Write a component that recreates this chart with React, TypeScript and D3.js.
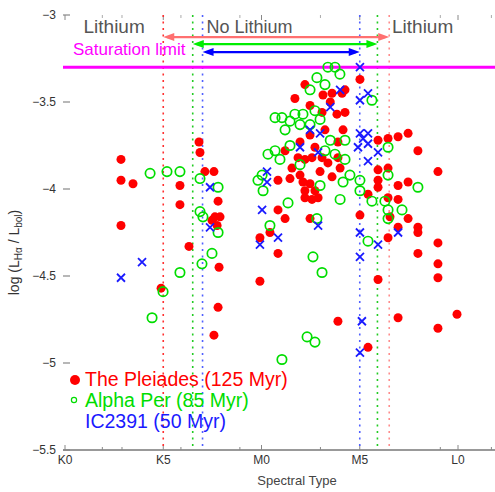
import React from 'react';
import * as d3 from 'd3';

const W = 495;
const H = 492;

// Spectral types are coded numerically: K0 = 0, K5 = 5, M0 = 10, M5 = 15, L0 = 20
const xTickTypes = [0, 5, 10, 15, 20];
const xTickLabels = ['K0', 'K5', 'M0', 'M5', 'L0'];
const xMinorTypes = [1.9, 2.9, 5.9, 8.9, 13, 19.1, 21.7];
const yTicks = [-3, -3.5, -4, -4.5, -5, -5.5];
const yTickLabels = ['−3', '−3.5', '−4', '−4.5', '−5', '−5.5'];

// log(L_Halpha / L_bol) against spectral type
const pleiades: [number, number][] = [
  [2.85, -3.83], [2.85, -3.95], [3.46, -3.97], [2.85, -4.21], [6.82, -3.73], [6.87, -3.79],
  [7.12, -3.9], [7.58, -3.9], [5.85, -3.98], [5.85, -4.09], [7.79, -4.07], [7.63, -4.16],
  [7.89, -4.16], [7.48, -4.18], [7.74, -4.21], [6.31, -4.33], [7.84, -4.45], [4.89, -4.57],
  [7.79, -4.68], [7.58, -4.84],
  [12.21, -3.4], [13.08, -3.56], [13.13, -3.46], [13.59, -3.45], [14.1, -3.45], [14.25, -3.43],
  [15.01, -3.37], [14.15, -3.66], [13.89, -3.73], [15.93, -3.72], [16.44, -3.71], [16.95, -3.7],
  [17.46, -3.68], [17.96, -3.78], [18.98, -3.9], [10.84, -3.95],
  [11.86, -3.82], [12.21, -3.83], [12.57, -3.82], [13.08, -3.82], [13.38, -3.85], [13.89, -3.82],
  [12.11, -3.96], [12.47, -3.97], [12.21, -4.01], [12.72, -4.01], [12.21, -4.05], [12.57, -4.06],
  [12.88, -4.05], [10.84, -4.12], [11.2, -4.17], [9.92, -4.28], [10.43, -4.25], [10.84, -4.37],
  [12.47, -4.17], [15.01, -4.15], [15.42, -4.03], [15.93, -3.89], [15.93, -3.95], [15.93, -3.99],
  [16.44, -3.88], [16.95, -3.98], [17.46, -3.96], [16.44, -4.05], [16.95, -4.06], [16.54, -4.16],
  [16.95, -4.22], [16.44, -4.28], [17.46, -4.17], [17.96, -4.22], [17.96, -4.25], [17.96, -4.37],
  [18.98, -4.31], [18.98, -4.43], [18.98, -4.51], [15.93, -4.52], [9.92, -4.53],
  [13.89, -4.76], [16.95, -4.74], [18.98, -4.8], [19.95, -4.72], [15.42, -4.91],
  [11.7, -3.48], [12.47, -3.52], [13.5, -3.5], [13.84, -3.57], [13.23, -3.66], [12.47, -3.69],
  [11.96, -3.73], [11.2, -3.78], [11.55, -3.88], [12.98, -3.9], [13.59, -3.93], [12.72, -3.76],
  [14.25, -3.56], [11.45, -3.94], [11.96, -3.92], [14.0, -3.88],
];

const alphaPer: [number, number][] = [
  [4.33, -3.91], [5.19, -3.9], [5.85, -3.9], [6.87, -3.94], [7.79, -3.99], [6.87, -4.13],
  [7.02, -4.16], [7.79, -4.25], [7.48, -4.37], [6.97, -4.43], [5.85, -4.48], [4.99, -4.59],
  [4.43, -4.74],
  [13.38, -3.3], [13.74, -3.3], [12.82, -3.36], [15.62, -3.49], [10.69, -3.59], [11.04, -3.59],
  [11.7, -3.57], [12.11, -3.57], [12.72, -3.55], [14.15, -3.96], [13.08, -4.48], [12.62, -4.39],
  [17.96, -3.99], [15.42, -4.3], [10.43, -4.21], [11.35, -4.08], [12.82, -4.17], [15.01, -4.01],
  [15.01, -3.95], [16.44, -3.76], [16.44, -3.92], [15.62, -4.07], [16.28, -4.07], [17.15, -4.12],
  [16.44, -4.12], [16.44, -4.17], [10.03, -3.92], [10.08, -4.01], [9.82, -3.95],
  [12.32, -4.85], [12.72, -4.88], [11.04, -4.98],
  [10.33, -3.8], [10.69, -3.78], [11.2, -3.66], [11.45, -3.61], [11.96, -3.63], [12.47, -3.63],
  [12.98, -3.6], [13.5, -3.72], [14.25, -3.72], [13.23, -3.78], [13.74, -3.8], [10.94, -3.83],
  [11.96, -3.86], [12.98, -3.98], [14.0, -4.06], [14.5, -3.92], [14.25, -3.83], [12.47, -3.43],
  [13.23, -3.4], [13.99, -3.34], [11.45, -3.75],
];

const ic2391: [number, number][] = [
  [7.38, -3.99], [7.38, -4.22], [3.92, -4.42], [2.85, -4.51],
  [10.28, -3.9], [10.28, -3.96], [11.96, -3.76], [12.88, -3.79], [12.98, -3.68], [15.01, -3.68],
  [15.17, -3.71], [15.42, -3.68], [15.42, -3.74], [14.91, -3.76], [15.01, -4.25], [15.01, -4.39],
  [15.93, -4.32], [15.93, -3.79], [16.95, -4.25], [12.88, -4.21], [10.03, -4.12], [10.84, -4.28],
  [9.92, -4.32], [15.42, -3.84], [15.01, -3.3], [14.0, -3.43], [15.42, -3.45], [15.01, -3.49],
  [15.11, -4.76], [15.01, -4.94], [13.5, -3.53], [12.47, -3.66],
];

const saturationLevel = -3.3;
// Hot and cool edges of the lithium-depleted range for each cluster
const pleiadesLiEdges = [5, 16.5];
const alphaPerLiEdges = [6.5, 15.9];
const ic2391LiEdges = [7, 15];

const RED = '#ff0000';
const GREEN = '#00dd00';
const BLUE = '#1a1aff';
const FONT = '"Liberation Sans", Arial, Helvetica, sans-serif';

const x = d3.scaleLinear().domain([0, 20]).range([65, 458]);
const y = d3.scaleLinear().domain([-3, -5.5]).range([15, 450]);

function Arrow({ x1, x2, yv, color }: { x1: number; x2: number; yv: number; color: string }) {
  const a = x(x1);
  const b = x(x2);
  const py = y(yv);
  const hl = 11;
  const hw = 4;
  return (
    <g>
      <line x1={a + 4} x2={b - 4} y1={py} y2={py} stroke={color} strokeWidth={2.2} />
      <path d={`M${a},${py}L${a + hl},${py - hw}L${a + hl},${py + hw}Z`} fill={color} />
      <path d={`M${b},${py}L${b - hl},${py - hw}L${b - hl},${py + hw}Z`} fill={color} />
    </g>
  );
}

export default function App() {
  const xAxisEnd = x(22.05);
  const yTop = y(-3);
  const yBottom = y(-5.5);
  const cross = (px: number, py: number, s: number) =>
    `M${px - s},${py - s}L${px + s},${py + s}M${px - s},${py + s}L${px + s},${py - s}`;

  const edgeLines = [
    { v: pleiadesLiEdges[0], c: '#ff3030' },
    { v: pleiadesLiEdges[1], c: '#ff8c8c' },
    { v: alphaPerLiEdges[0], c: '#22cc22' },
    { v: alphaPerLiEdges[1], c: '#22cc22' },
    { v: ic2391LiEdges[0], c: '#5060ff' },
    { v: ic2391LiEdges[1], c: '#5060ff' },
  ];

  return (
    <svg
      width={W}
      height={H}
      viewBox={`0 0 ${W} ${H}`}
      style={{ position: 'absolute', left: 0, top: 0, background: '#fff' }}
      fontFamily={FONT}
    >
      <rect width={W} height={H} fill="#fff" />

      {/* x axis */}
      <line x1={63} x2={xAxisEnd} y1={yBottom} y2={yBottom} stroke="#999" strokeWidth={2} />
      {xTickTypes.map((t, i) => (
        <g key={`xt${i}`}>
          <line x1={x(t)} x2={x(t)} y1={yBottom} y2={yBottom - 5} stroke="#888" strokeWidth={1} />
          <line x1={x(t)} x2={x(t)} y1={yTop} y2={yTop + 5} stroke="#888" strokeWidth={1} />
          <text x={x(t)} y={yBottom + 14} textAnchor="middle" fontSize={12} fill="#333">
            {xTickLabels[i]}
          </text>
        </g>
      ))}
      {xMinorTypes.map((t, i) => (
        <g key={`xm${i}`}>
          <line x1={x(t)} x2={x(t)} y1={yBottom} y2={yBottom - 3} stroke="#888" strokeWidth={1} />
          <line x1={x(t)} x2={x(t)} y1={yTop} y2={yTop + 3} stroke="#aaa" strokeWidth={1} />
        </g>
      ))}
      <text x={297} y={485} textAnchor="middle" fontSize={13} fill="#444">
        Spectral Type
      </text>

      {/* y axis */}
      {yTicks.map((t, i) => (
        <g key={`yt${i}`}>
          <line x1={63} x2={70} y1={y(t)} y2={y(t)} stroke="#888" strokeWidth={1.2} />
          <text x={56} y={y(t) + 4} textAnchor="end" fontSize={12} fill="#333">
            {yTickLabels[i]}
          </text>
        </g>
      ))}
      <text
        transform={`translate(19,${(yTop + yBottom) / 2 + 20}) rotate(-90)`}
        textAnchor="middle"
        fontSize={14}
        fill="#333"
      >
        log (L<tspan fontSize={10} dy={3}>Hα</tspan>
        <tspan dy={-3}> / L</tspan>
        <tspan fontSize={10} dy={3}>bol</tspan>
        <tspan dy={-3}>)</tspan>
      </text>

      {/* lithium depletion edges */}
      {edgeLines.map((e, i) => (
        <line
          key={`edge${i}`}
          x1={x(e.v)}
          x2={x(e.v)}
          y1={yTop}
          y2={yBottom}
          stroke={e.c}
          strokeWidth={1.6}
          strokeDasharray="2 4.5"
        />
      ))}

      <Arrow x1={pleiadesLiEdges[0]} x2={pleiadesLiEdges[1]} yv={-3.127} color="#ff7070" />
      <Arrow x1={alphaPerLiEdges[0]} x2={alphaPerLiEdges[1]} yv={-3.167} color="#00ee00" />
      <Arrow x1={ic2391LiEdges[0]} x2={ic2391LiEdges[1]} yv={-3.213} color="#0000ff" />

      <text x={x(2.5)} y={y(-3.105)} textAnchor="middle" fontSize={19} fill="#555">
        Lithium
      </text>
      <text x={x(7.2)} y={y(-3.105)} textAnchor="start" fontSize={18} fill="#555">
        No Lithium
      </text>
      <text x={x(18.2)} y={y(-3.105)} textAnchor="middle" fontSize={19} fill="#555">
        Lithium
      </text>

      {/* saturation level */}
      <line x1={63} x2={W} y1={y(saturationLevel)} y2={y(saturationLevel)} stroke="#ff00ff" strokeWidth={3} />
      <text x={73} y={y(-3.23)} fontSize={17} fill="#ff00ff">
        Saturation limit
      </text>

      {/* cluster members */}
      {pleiades.map((d, i) => (
        <circle key={`p${i}`} cx={x(d[0])} cy={y(d[1])} r={4.5} fill={RED} />
      ))}
      {alphaPer.map((d, i) => (
        <circle key={`a${i}`} cx={x(d[0])} cy={y(d[1])} r={4.7} fill="none" stroke={GREEN} strokeWidth={1.7} />
      ))}
      {ic2391.map((d, i) => (
        <path key={`c${i}`} d={cross(x(d[0]), y(d[1]), 4)} stroke={BLUE} strokeWidth={1.8} fill="none" />
      ))}

      {/* legend */}
      <circle cx={75} cy={380} r={5} fill={RED} />
      <text x={85} y={386} fontSize={19.5} fill={RED}>
        The Pleiades (125 Myr)
      </text>
      <circle cx={74} cy={400} r={2.6} fill="none" stroke={GREEN} strokeWidth={1.2} />
      <text x={85} y={407} fontSize={19.5} fill={GREEN}>
        Alpha Per (85 Myr)
      </text>
      <text x={85} y={428} fontSize={19.5} fill={BLUE}>
        IC2391 (50 Myr)
      </text>
    </svg>
  );
}
